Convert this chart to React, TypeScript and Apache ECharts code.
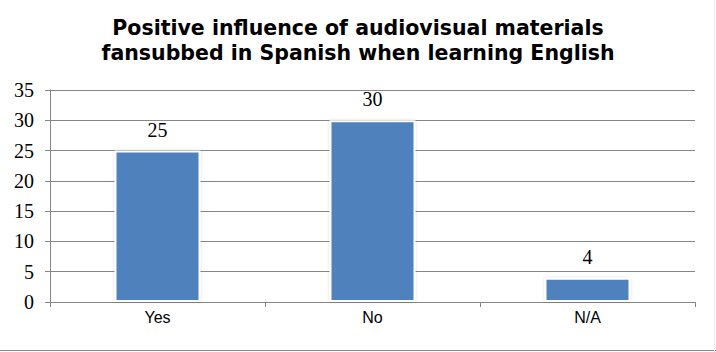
import React, { useEffect, useRef } from "react";
import * as echarts from "echarts";

const categories = ["Yes", "No", "N/A"];
const values = [25, 30, 4];
const yTicks = { min: 0, max: 35, interval: 5 };
const titleLines = [
  "Positive influence of audiovisual materials",
  "fansubbed in Spanish when learning English",
];

export default function App() {
  const ref = useRef<HTMLDivElement>(null);
  useEffect(() => {
    if (!ref.current) return;
    const chart = echarts.init(ref.current, undefined, { renderer: "svg" });
    chart.setOption({
      animation: false,
      backgroundColor: "#ffffff",
      title: {
        text: titleLines.join("\n"),
        left: "center",
        top: 15,
        padding: 0,
        textStyle: {
          fontFamily: "DejaVu Sans",
          fontWeight: "bold",
          fontSize: 20.5,
          lineHeight: 25,
          color: "#000",
        },
      },
      grid: { left: 50, right: 21, top: 90, bottom: 50 },
      xAxis: {
        type: "category",
        data: categories,
        boundaryGap: true,
        axisLine: { show: true, lineStyle: { color: "#868686", width: 1 } },
        axisTick: { show: true, length: 5, alignWithLabel: false, lineStyle: { color: "#868686" } },
        axisLabel: {
          fontFamily: "Liberation Sans",
          fontSize: 16,
          color: "#000",
          margin: 7,
        },
      },
      yAxis: {
        type: "value",
        min: yTicks.min,
        max: yTicks.max,
        interval: yTicks.interval,
        axisLine: { show: true, lineStyle: { color: "#868686", width: 1 } },
        axisTick: { show: true, length: 5, lineStyle: { color: "#868686" } },
        splitLine: { show: true, lineStyle: { color: "#868686", width: 1 } },
        axisLabel: {
          fontFamily: "Liberation Serif",
          fontSize: 20,
          color: "#000",
          margin: 16,
        },
      },
      series: [
        {
          type: "bar",
          data: values,
          barWidth: 86,
          itemStyle: {
            color: "#4F81BD",
            borderColor: "#ffffff",
            borderWidth: 2,
            shadowColor: "rgba(0,0,0,0.15)",
            shadowBlur: 3,
          },
          label: {
            show: true,
            position: "top",
            distance: 11,
            fontFamily: "Liberation Serif",
            fontSize: 20,
            color: "#000",
          },
        },
      ],
      graphic: [
        {
          type: "line",
          shape: { x1: 0, y1: 350.5, x2: 716, y2: 350.5 },
          style: { stroke: "#8a8a8a", lineWidth: 1 },
        },
        {
          type: "line",
          shape: { x1: 714.5, y1: 0, x2: 714.5, y2: 352 },
          style: { stroke: "#eeeeee", lineWidth: 1 },
        },
      ],
    });
    return () => chart.dispose();
  }, []);
  return (
    <div
      ref={ref}
      style={{ position: "fixed", left: 0, top: 0, width: 716, height: 352 }}
    />
  );
}
